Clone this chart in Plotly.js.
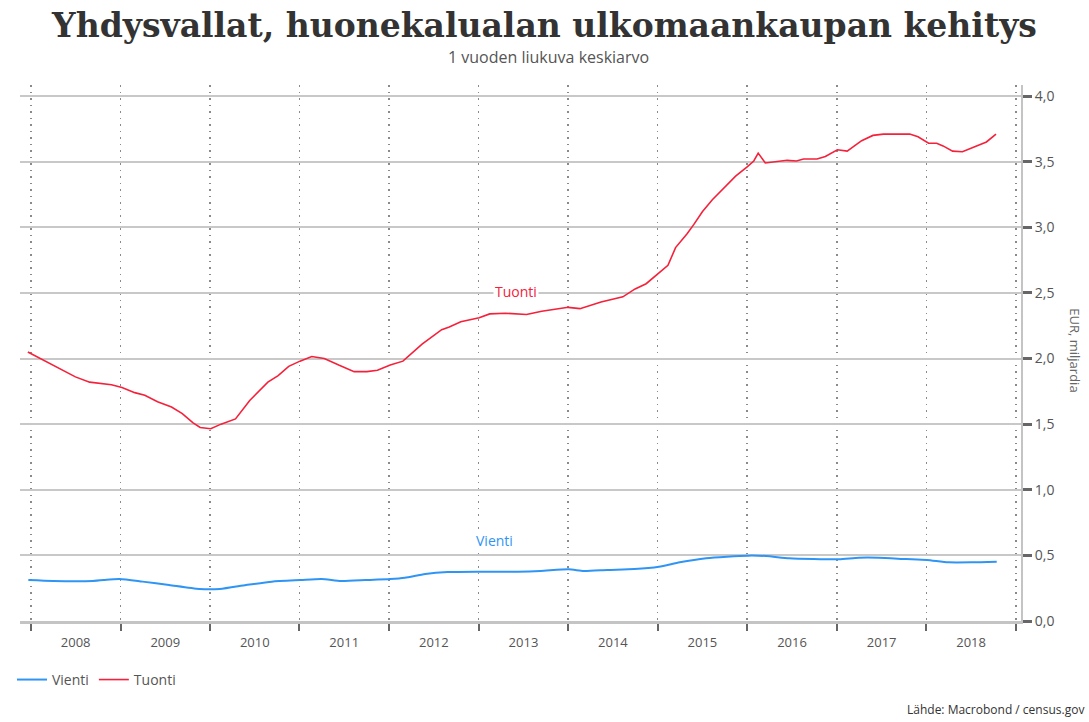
<!DOCTYPE html>
<html>
<head>
<meta charset="utf-8">
<script src="https://cdn.plot.ly/plotly-3.0.1.min.js"></script>
<style>
  html, body { margin: 0; padding: 0; background: #ffffff; }
  #chart { width: 1089px; height: 722px; }
</style>
</head>
<body>
<div id="chart"></div>
<script>
// ---- Data ----
const tuontiDates = [
  "2007-12-20","2008-03-20","2008-05-04","2008-07-01","2008-08-28","2008-10-12","2008-11-25",
  "2009-01-07","2009-02-28","2009-04-10","2009-06-01","2009-07-28","2009-09-10","2009-10-24","2009-11-22",
  "2010-01-04","2010-02-15","2010-04-15","2010-06-12","2010-08-25","2010-10-06","2010-11-18",
  "2011-01-03","2011-02-20","2011-04-12","2011-06-10","2011-08-12","2011-10-03","2011-11-15",
  "2012-01-06","2012-02-27","2012-05-15","2012-08-03","2012-09-03","2012-10-20",
  "2013-01-03","2013-02-15","2013-04-20","2013-07-15","2013-09-15",
  "2014-01-01","2014-02-18","2014-05-15","2014-08-12","2014-10-01","2014-11-15","2014-12-28",
  "2015-02-12","2015-03-15","2015-05-01","2015-05-28","2015-07-03","2015-08-12","2015-09-28","2015-11-15",
  "2016-01-01","2016-01-28","2016-02-15","2016-03-15","2016-06-12","2016-07-20","2016-08-18","2016-10-12","2016-11-15",
  "2017-01-03","2017-02-12","2017-04-12","2017-05-28","2017-07-10","2017-10-25","2017-11-28",
  "2018-01-10","2018-02-12","2018-03-10","2018-04-18","2018-05-28","2018-07-10","2018-09-03","2018-10-12"
];
const tuontiValues = [
  2.05,1.96,1.92,1.86,1.82,1.81,1.80,
  1.78,1.74,1.72,1.67,1.63,1.58,1.51,1.475,
  1.465,1.50,1.54,1.68,1.82,1.87,1.94,
  1.98,2.015,2.00,1.95,1.90,1.90,1.91,
  1.95,1.98,2.11,2.22,2.24,2.28,
  2.31,2.34,2.345,2.335,2.36,
  2.39,2.38,2.43,2.47,2.53,2.57,2.635,
  2.71,2.845,2.95,3.02,3.12,3.21,3.30,3.39,
  3.46,3.505,3.565,3.49,3.51,3.505,3.52,3.52,3.54,
  3.59,3.58,3.66,3.70,3.71,3.71,3.69,
  3.64,3.64,3.62,3.58,3.575,3.61,3.65,3.71
];
const vientiDates = [
  "2007-12-22","2008-04-01","2008-09-10","2008-12-28",
  "2009-04-01","2009-07-18","2009-11-18",
  "2010-02-10","2010-05-28","2010-09-10",
  "2011-01-06","2011-04-01","2011-06-20","2011-09-28",
  "2012-01-06","2012-03-06","2012-05-28","2012-08-28",
  "2013-01-03","2013-06-10","2013-09-10",
  "2014-01-03","2014-03-06","2014-06-10","2014-09-28",
  "2015-01-06","2015-04-01","2015-07-18","2015-10-10",
  "2016-01-06","2016-03-18","2016-06-20","2016-09-28",
  "2017-01-10","2017-04-01","2017-06-20","2017-10-10",
  "2018-01-03","2018-04-01","2018-07-06","2018-10-15"
];
const vientiValues = [
  0.312,0.305,0.305,0.32,
  0.30,0.274,0.244,
  0.244,0.274,0.30,
  0.312,0.32,0.305,0.312,
  0.32,0.33,0.358,0.373,
  0.376,0.376,0.381,
  0.394,0.381,0.389,0.396,
  0.414,0.447,0.478,0.49,
  0.498,0.495,0.478,0.472,
  0.47,0.482,0.482,0.472,
  0.465,0.447,0.447,0.452
];
const yTickVals = [0, 0.5, 1.0, 1.5, 2.0, 2.5, 3.0, 3.5, 4.0];
const seriesNames = ["Vienti", "Tuonti"];
const seriesColors = ["#2f95f5", "#f5213a"];

const titleText = "Yhdysvallat, huonekalualan ulkomaankaupan kehitys";
const subtitleText = "1 vuoden liukuva keskiarvo";
const yAxisTitle = "EUR, miljardia";
const sourceText = "Lähde: Macrobond / census.gov";

// ---- Traces ----
const traces = [
  { x: vientiDates, y: vientiValues, name: seriesNames[0], type: "scatter", mode: "lines",
    line: { color: seriesColors[0], width: 2, shape: "spline", smoothing: 0.6 } },
  { x: tuontiDates, y: tuontiValues, name: seriesNames[1], type: "scatter", mode: "lines",
    line: { color: seriesColors[1], width: 1.6 } }
];

const layout = {
  width: 1089, height: 722,
  paper_bgcolor: "#ffffff", plot_bgcolor: "#ffffff",
  separators: ", ",
  margin: { l: 15, r: 68, t: 85, b: 101 },
  font: { family: "Open Sans, sans-serif", color: "#555555" },
  title: {
    text: titleText,
    font: { family: "DejaVu Serif, serif", size: 33, color: "#333333", weight: "bold" },
    xref: "container", x: 0.5, xanchor: "center",
    yref: "container", y: 1 - 25 / 722, yanchor: "middle"
  },
  showlegend: true,
  legend: {
    orientation: "h", x: -0.008, xanchor: "left", y: -0.11, yanchor: "middle",
    font: { size: 14, color: "#555555" }, itemwidth: 30, traceorder: "normal"
  },
  xaxis: {
    type: "date",
    range: ["2007-11-18", "2019-01-22"],
    tick0: "2008-01-01", dtick: "M12",
    tickformat: "%Y", ticklabelmode: "period",
    ticks: "outside", ticklen: 7, tickwidth: 2, tickcolor: "#666666",
    tickfont: { size: 13, color: "#555555" },
    showgrid: true, gridcolor: "#8a8a8a", gridwidth: 1.5, griddash: "1.5px,5px",
    showline: true, linecolor: "#c4c4c4", linewidth: 3,
    zeroline: false, fixedrange: true
  },
  yaxis: {
    side: "right",
    range: [0, 4.084],
    tickvals: yTickVals, tickformat: ".1f",
    ticks: "outside", ticklen: 9, tickwidth: 3, tickcolor: "#666666",
    tickfont: { size: 14, color: "#555555" },
    showgrid: true, gridcolor: "#c8c8c8", gridwidth: 2,
    showline: true, linecolor: "#c4c4c4", linewidth: 2,
    zeroline: false, fixedrange: true
  },
  annotations: [
    { text: subtitleText, xref: "paper", yref: "paper", x: (546 - 15) / 1006, y: (621 - 57) / 536,
      xanchor: "center", yanchor: "middle", showarrow: false,
      font: { size: 16, color: "#555555" } },
    { text: yAxisTitle, xref: "paper", yref: "paper", x: (1075 - 15) / 1006, y: (621 - 350) / 536,
      xanchor: "center", yanchor: "middle", showarrow: false, textangle: 90,
      font: { size: 13, color: "#666666" } },
    { text: seriesNames[1], xref: "x", yref: "y", x: "2013-06-01", y: 2.507,
      xanchor: "center", yanchor: "middle", showarrow: false, bgcolor: "#ffffff",
      font: { size: 14, color: seriesColors[1] } },
    { text: seriesNames[0], xref: "x", yref: "y", x: "2013-03-07", y: 0.61,
      xanchor: "center", yanchor: "middle", showarrow: false, bgcolor: "#ffffff",
      font: { size: 14, color: seriesColors[0] } },
    { text: sourceText, xref: "paper", yref: "paper", x: (1086 - 15) / 1006, y: (621 - 709) / 536,
      xanchor: "right", yanchor: "middle", showarrow: false,
      font: { size: 12, color: "#333333" } }
  ]
};

Plotly.newPlot("chart", traces, layout, { displayModeBar: false, staticPlot: true });
</script>
</body>
</html>
